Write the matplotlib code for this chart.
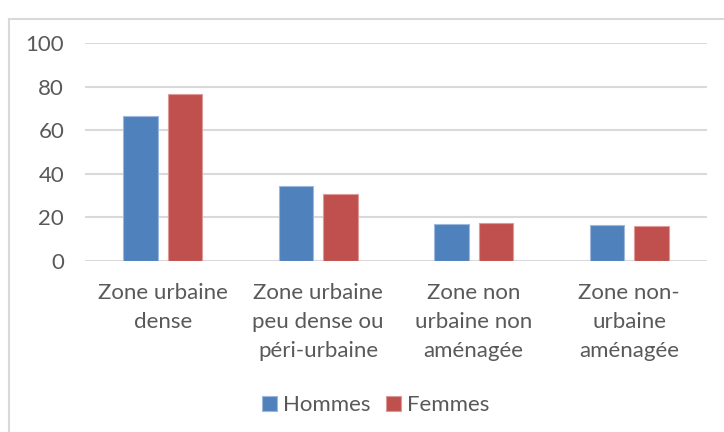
import matplotlib.pyplot as plt
import numpy as np
from matplotlib.patches import Rectangle

categories = ["Zone urbaine\ndense", "Zone urbaine\npeu dense ou\npéri-urbaine",
              "Zone non\nurbaine non\naménagée", "Zone non-\nurbaine\naménagée"]
hommes = [66.4, 34.5, 17.2, 16.5]
femmes = [76.8, 30.8, 17.4, 16.0]

plt.rcParams['font.family'] = ['Lato', 'DejaVu Sans']
txt = '#595959'

fig = plt.figure(figsize=(7.24, 4.32), dpi=100)
# outer chart frame
fig.patches.append(Rectangle((9 / 724, -0.1), 1.2, 1.1 - 19 / 432, transform=fig.transFigure,
                             fill=False, edgecolor='#D9D9D9', linewidth=1.5))
ax = fig.add_axes([85 / 724, 1 - 261 / 432, 622 / 724, 218 / 432])

x = np.arange(len(categories))
w = 0.222
ax.bar(x - 0.143, hommes, w, color='#4F81BD', edgecolor='#9DB8DB', linewidth=0.8,
       label='Hommes', zorder=3)
ax.bar(x + 0.143, femmes, w, color='#C0504D', edgecolor='#DC9B99', linewidth=0.8,
       label='Femmes', zorder=3)

ax.set_xlim(-0.5, 3.5)
ax.set_ylim(0, 100)
ax.set_yticks(range(0, 101, 20))
ax.yaxis.grid(True, color='#D9D9D9', linewidth=1.5, zorder=0)
for s in ax.spines.values():
    s.set_visible(False)
ax.tick_params(length=0, labelsize=16, colors=txt, pad=15)
ax.tick_params(axis='x', pad=16)
ax.set_xticks(x)
ax.set_xticklabels(categories, linespacing=1.55)

fig.legend(loc='center', bbox_to_anchor=(376 / 724, 1 - 405 / 432), ncol=2, frameon=False,
           fontsize=16, labelcolor=txt, handlelength=0.65, handleheight=0.65,
           handletextpad=0.3, columnspacing=0.7)

plt.savefig('out.png', dpi=100)
